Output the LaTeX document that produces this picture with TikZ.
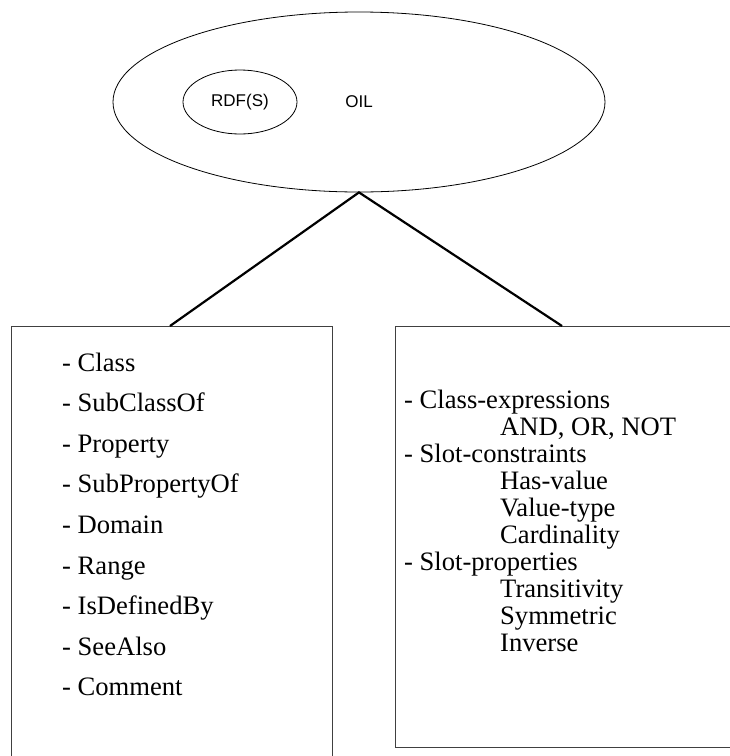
\documentclass[tikz,border=0pt]{standalone}
\usepackage{fontspec}
\setmainfont{Liberation Serif}
\newfontfamily\sansf{Liberation Sans}
\usetikzlibrary{shapes.geometric}
\begin{document}
\begin{tikzpicture}[x=1pt,y=-1pt,
  oval/.style={draw,ellipse,line width=0.8pt,inner sep=0pt,font=\sansf\fontsize{17}{20}\selectfont},
  listbox/.style={draw=black!75,line width=1pt,rectangle,anchor=north west,inner sep=0pt},
  link/.style={line width=2.2pt},
  item/.style={anchor=base west,inner sep=0pt,font=\fontsize{26.6}{30}\selectfont}]
\useasboundingbox (0,0) rectangle (730,756);
\node[oval,minimum width=492pt,minimum height=180pt] (oil) at (359,102) {OIL};
\node[oval,minimum width=114pt,minimum height=64pt] (rdfs) at (240,102) {RDF(S)};
\node[listbox,minimum width=321pt,minimum height=480pt] (lbox) at (11,326) {};
\node[listbox,minimum width=350pt,minimum height=421pt] (rbox) at (395,326) {};
\coordinate (ltop) at (170,326);
\coordinate (rtop) at (562,326);
\draw[link] (ltop) -- (oil.south) -- (rtop);
\foreach \t [count=\i] in {Class,SubClassOf,Property,SubPropertyOf,Domain,Range,IsDefinedBy,SeeAlso,Comment}
  \node[item] (l\i) at (62,{371+40.6*(\i-1)}) {- \t};
\foreach \t/\xx [count=\i] in {- Class-expressions/404,{AND, OR, NOT}/500,- Slot-constraints/404,Has-value/500,Value-type/500,Cardinality/500,- Slot-properties/404,Transitivity/500,Symmetric/500,Inverse/500}
  \node[item] (r\i) at (\xx,{408+27.1*(\i-1)}) {\t};
\end{tikzpicture}
\end{document}
